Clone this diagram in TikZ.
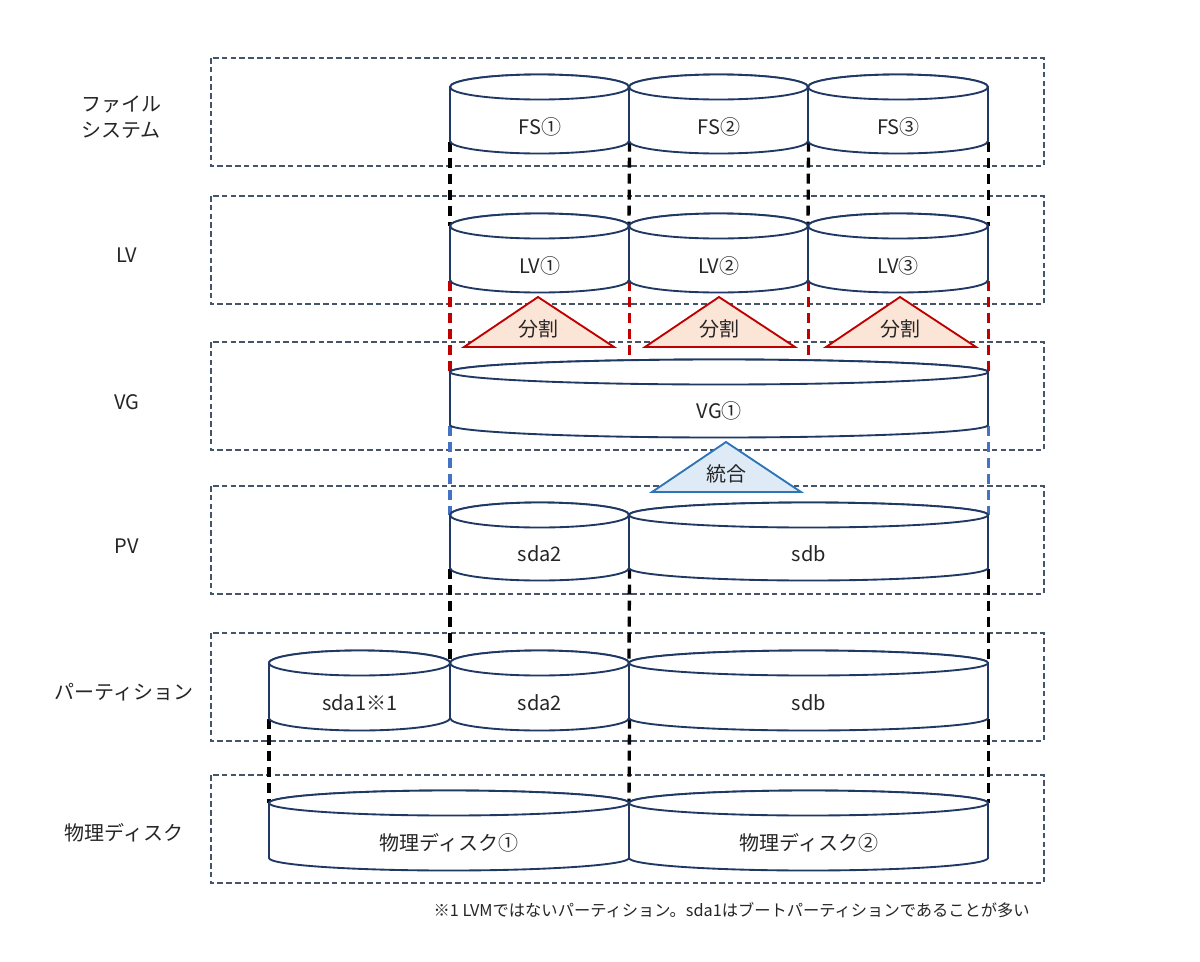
\documentclass[tikz,border=0pt]{standalone}
\usepackage{fontspec}
\setmainfont{Noto Sans CJK JP}
\pgfdeclarelayer{back}
\pgfdeclarelayer{conn}
\pgfsetlayers{back,conn,main}
\definecolor{navy}{RGB}{31,56,100}
\definecolor{bandc}{RGB}{68,84,106}
\definecolor{redc}{RGB}{192,0,0}
\definecolor{redf}{RGB}{251,229,214}
\definecolor{bluec}{RGB}{46,117,182}
\definecolor{bluedash}{RGB}{68,114,196}
\definecolor{bluef}{RGB}{222,235,247}
\definecolor{txt}{RGB}{38,38,38}
\tikzset{
  band/.style={draw=bandc, line width=1pt, dash pattern=on 4.2pt off 2.4pt},
  cylbody/.style={draw=navy, fill=white, line width=1.4pt},
  cyllabel/.style={inner sep=0pt, font=\fontsize{15}{18}\selectfont, text=txt},
  rowlabel/.style={font=\fontsize{15}{19}\selectfont, text=txt, align=center, inner sep=0pt},
  trilabel/.style={font=\fontsize{15}{18}\selectfont, text=txt, inner sep=0pt},
  blackconn/.style={draw=black, line width=2.5pt, dash pattern=on 7.5pt off 4.5pt},
  redconn/.style={blackconn, draw=redc},
  blueconn/.style={blackconn, draw=bluedash},
  redtri/.style={draw=redc, fill=redf, line width=1.4pt, line join=miter},
  bluetri/.style={draw=bluec, fill=bluef, line width=1.4pt, line join=miter},
}
\newcommand\mycyl[6]{%
  \pgfmathsetmacro\cw{(#3-#2)*0.75}%
  \pgfmathsetmacro\ch{(#5-#4)*0.75}%
  \pgfmathsetmacro\rx{(#3-#2)/2}%
  \pgfmathsetmacro\cx{(#3+#2)/2}%
  \filldraw[cylbody] (#2,#4) -- (#2,#5) arc[start angle=180,end angle=0,x radius=\rx,y radius=12.5] -- (#3,#4) arc[start angle=0,end angle=-180,x radius=\rx,y radius=12.5] -- cycle;
  \filldraw[cylbody] (\cx,#4) ellipse[x radius=\rx, y radius=12.5];
  \node[cyllabel, anchor=north west, minimum width=\cw pt, minimum height=\ch pt] (#1) at (#2,#4) {\raisebox{-15pt}[0pt][0pt]{#6}};%
}
\begin{document}
\begin{tikzpicture}[x=0.75pt, y=-0.75pt]
\useasboundingbox (0,0) rectangle (1200,961);
% bands
\begin{pgfonlayer}{back}
\fill[white] (0,0) rectangle (1200,961);
\draw[band] (211,58) rectangle (1044,166);
\draw[band] (211,196) rectangle (1044,304);
\draw[band] (211,342) rectangle (1044,450);
\draw[band] (211,486) rectangle (1044,594);
\draw[band] (211,633) rectangle (1044,741);
\draw[band] (211,775) rectangle (1044,883);
\end{pgfonlayer}
% row labels
\node[rowlabel] (lfs) at (121,117) {ファイル\\システム};
\node[rowlabel] (llv) at (127,255) {LV};
\node[rowlabel] (lvg) at (127,402) {VG};
\node[rowlabel] (lpv) at (127,546) {PV};
\node[rowlabel] (lpt) at (124,692) {パーティション};
\node[rowlabel] (lpd) at (124,833) {物理ディスク};
% cylinders
\mycyl{fs1}{450}{629}{87}{141}{FS①}
\mycyl{fs2}{629}{808}{87}{141}{FS②}
\mycyl{fs3}{808}{988}{87}{141}{FS③}
\mycyl{lv1}{450}{629}{226}{280}{LV①}
\mycyl{lv2}{629}{808}{226}{280}{LV②}
\mycyl{lv3}{808}{988}{226}{280}{LV③}
\mycyl{vg1}{450}{988}{372}{425}{VG①}
\mycyl{pv1}{450}{629}{515}{568}{sda2}
\mycyl{pv2}{629}{988}{515}{568}{sdb}
\mycyl{pt1}{269}{450}{663}{718}{sda1※1}
\mycyl{pt2}{450}{629}{663}{718}{sda2}
\mycyl{pt3}{629}{988}{663}{718}{sdb}
\mycyl{pd1}{269}{629}{803}{858}{物理ディスク①}
\mycyl{pd2}{629}{988}{803}{858}{物理ディスク②}
% triangles
\filldraw[redtri] (538,297) -- (614,347) -- (464,347) -- cycle;
\node[trilabel] (sp1) at (538,329) {分割};
\filldraw[redtri] (719,297) -- (795,347) -- (645,347) -- cycle;
\node[trilabel] (sp2) at (719,329) {分割};
\filldraw[redtri] (900,297) -- (976,347) -- (826,347) -- cycle;
\node[trilabel] (sp3) at (900,329) {分割};
\filldraw[bluetri] (726,442) -- (801,492) -- (652,492) -- cycle;
\node[trilabel] (mg) at (726,474) {統合};
% connectors
\begin{pgfonlayer}{conn}
\draw[blackconn] (fs1.south west) -- (lv1.north west);
\draw[blackconn] (fs1.south east) -- (lv2.north west);
\draw[blackconn] (fs2.south east) -- (lv3.north west);
\draw[blackconn] (fs3.south east) -- (lv3.north east);
\draw[redconn] (lv1.south west) -- (vg1.north west);
\draw[redconn] (lv1.south east) -- (lv1.south east |- vg1.north);
\draw[redconn] (lv2.south east) -- (lv2.south east |- vg1.north);
\draw[redconn] (lv3.south east) -- (vg1.north east);
\draw[blueconn] (vg1.south west) -- (pv1.north west);
\draw[blueconn] (vg1.south east) -- (pv2.north east);
\draw[blackconn] (pv1.south west) -- (pt2.north west);
\draw[blackconn] (pv1.south east) -- (pt3.north west);
\draw[blackconn] (pv2.south east) -- (pt3.north east);
\draw[blackconn] (pt1.south west) -- (pd1.north west);
\draw[blackconn] (pt2.south east) -- (pd2.north west);
\draw[blackconn] (pt3.south east) -- (pd2.north east);
\end{pgfonlayer}
% footnote
\node[anchor=east, inner sep=0pt, font=\fontsize{12.2}{15}\selectfont, text=txt] (note) at (1030,910) {※1 LVMではないパーティション。sda1はブートパーティションであることが多い};
\end{tikzpicture}
\end{document}
